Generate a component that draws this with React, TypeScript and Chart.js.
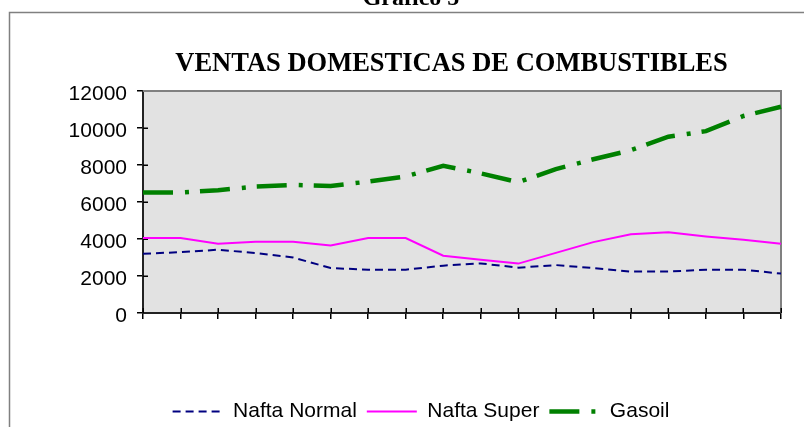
import React, { useEffect, useRef } from 'react';
import { Chart, registerables } from 'chart.js';

Chart.register(...registerables);

// ---- data ----
const periods: string[] = [
  'P1', 'P2', 'P3', 'P4', 'P5', 'P6', 'P7', 'P8', 'P9',
  'P10', 'P11', 'P12', 'P13', 'P14', 'P15', 'P16', 'P17', 'P18',
];
const naftaNormal: number[] = [
  3200, 3290, 3420, 3240, 3000, 2430, 2340, 2340, 2560,
  2680, 2450, 2590, 2430, 2240, 2240, 2340, 2340, 2130,
];
const naftaSuper: number[] = [
  4050, 4050, 3750, 3850, 3850, 3650, 4050, 4050, 3100,
  2880, 2670, 3250, 3830, 4260, 4360, 4140, 3960, 3740,
];
const gasoil: number[] = [
  6510, 6510, 6640, 6830, 6920, 6870, 7100, 7380, 7960,
  7550, 7070, 7780, 8310, 8800, 9530, 9830, 10650, 11150,
];
const yTicks: number[] = [0, 2000, 4000, 6000, 8000, 10000, 12000];
const seriesNames: string[] = ['Nafta Normal', 'Nafta Super', 'Gasoil'];
const pageTitle = 'Gráfico 5';
const chartTitle = 'VENTAS DOMESTICAS DE COMBUSTIBLES';

const SANS = "'Liberation Sans', Arial, sans-serif";
const SERIF = "'Liberation Serif', 'Times New Roman', serif";

const decorPlugin = {
  id: 'decor',
  beforeDraw(chart: any) {
    const { ctx, chartArea } = chart;
    ctx.save();
    // outer frame (left + top)
    ctx.strokeStyle = '#808080';
    ctx.lineWidth = 1.5;
    ctx.beginPath();
    ctx.moveTo(9.5, 440);
    ctx.lineTo(9.5, 12.5);
    ctx.lineTo(810, 12.5);
    ctx.stroke();
    // plot background
    ctx.fillStyle = '#E2E2E2';
    ctx.fillRect(chartArea.left, chartArea.top, chartArea.right - chartArea.left, chartArea.bottom - chartArea.top);
    ctx.restore();
  },
  beforeDatasetsDraw(chart: any) {
    const { ctx, chartArea, scales } = chart;
    ctx.save();
    // plot border top and right
    ctx.strokeStyle = '#808080';
    ctx.lineWidth = 2;
    ctx.beginPath();
    ctx.moveTo(chartArea.left, chartArea.top);
    ctx.lineTo(chartArea.right, chartArea.top);
    ctx.lineTo(chartArea.right, chartArea.bottom);
    ctx.stroke();
    // inner tick marks
    ctx.strokeStyle = '#000';
    ctx.lineWidth = 1.5;
    ctx.beginPath();
    const xs = scales.x;
    for (let i = 0; i < xs.ticks.length; i++) {
      const px = Math.round(xs.getPixelForTick(i)) + 0.25;
      ctx.moveTo(px, chartArea.bottom - 5);
      ctx.lineTo(px, chartArea.bottom);
    }
    const ys = scales.y;
    for (let i = 1; i < ys.ticks.length - 1; i++) {
      const py = Math.round(ys.getPixelForTick(i)) + 0.25;
      ctx.moveTo(chartArea.left, py);
      ctx.lineTo(chartArea.left + 5, py);
    }
    ctx.stroke();
    ctx.restore();
  },
  afterDraw(chart: any) {
    const { ctx } = chart;
    ctx.save();
    ctx.fillStyle = '#000';
    ctx.textAlign = 'center';
    ctx.textBaseline = 'alphabetic';
    ctx.font = `bold 24px ${SERIF}`;
    ctx.fillText(pageTitle, 411, 5);
    ctx.font = `bold 26.5px ${SERIF}`;
    ctx.fillText(chartTitle, 451.5, 70.5);
    ctx.restore();
  },
};

export default function App() {
  const canvasRef = useRef<HTMLCanvasElement | null>(null);

  useEffect(() => {
    if (!canvasRef.current) return;
    const chart = new Chart(canvasRef.current, {
      type: 'line',
      data: {
        labels: periods,
        datasets: [
          {
            label: seriesNames[0],
            data: naftaNormal,
            borderColor: '#000080',
            backgroundColor: '#000080',
            borderWidth: 2,
            borderDash: [8, 5],
          },
          {
            label: seriesNames[1],
            data: naftaSuper,
            borderColor: '#FF00FF',
            backgroundColor: '#FF00FF',
            borderWidth: 2,
          },
          {
            label: seriesNames[2],
            data: gasoil,
            borderColor: '#008000',
            backgroundColor: '#008000',
            borderWidth: 4.5,
            borderDash: [30, 12, 4, 11],
          },
        ],
      },
      options: {
        responsive: false,
        animation: false,
        devicePixelRatio: 1,
        layout: { padding: { left: 61, right: 23, top: 91, bottom: 0 } },
        elements: {
          point: { radius: 0, hoverRadius: 0 },
          line: { tension: 0, borderCapStyle: 'butt', borderJoinStyle: 'miter', fill: false },
        },
        plugins: {
          title: { display: false },
          tooltip: { enabled: false },
          legend: {
            display: true,
            position: 'bottom',
            align: 'center',
            labels: {
              usePointStyle: true,
              pointStyle: 'line',
              pointStyleWidth: 50,
              padding: 10,
              color: '#000',
              font: { family: SANS, size: 21 },
              generateLabels: (c: any) =>
                c.data.datasets.map((ds: any, i: number) => ({
                  text: ds.label,
                  fillStyle: ds.borderColor,
                  strokeStyle: ds.borderColor,
                  lineWidth: ds.borderWidth,
                  lineDash: ds.borderDash || [],
                  lineCap: 'butt',
                  pointStyle: 'line',
                  rotation: 180,
                  hidden: false,
                  fontColor: '#000',
                  datasetIndex: i,
                })),
            },
          },
        },
        scales: {
          x: {
            type: 'category',
            offset: false,
            grid: {
              display: true,
              drawOnChartArea: false,
              drawTicks: true,
              tickLength: 6,
              color: '#000',
              lineWidth: 1.5,
            },
            border: { display: true, color: '#222', width: 2 },
            ticks: { display: false },
            afterFit: (s: any) => { s.height = 78; },
          },
          y: {
            min: yTicks[0],
            max: yTicks[yTicks.length - 1],
            afterBuildTicks: (s: any) => { s.ticks = yTicks.map((v) => ({ value: v })); },
            ticks: {
              color: '#000',
              padding: 10,
              labelOffset: 3.5,
              font: { family: SANS, size: 21 },
              callback: (v: any) => String(v),
            },
            grid: {
              display: true,
              drawOnChartArea: false,
              drawTicks: true,
              tickLength: 6,
              color: '#000',
              lineWidth: 1.5,
            },
            border: { display: true, color: '#222', width: 2 },
            afterFit: (s: any) => { s.width = 82; },
          },
        },
      },
      plugins: [decorPlugin],
    } as any);
    return () => chart.destroy();
  }, []);

  return (
    <div style={{ position: 'absolute', left: 0, top: 0, width: 804, height: 427, overflow: 'hidden', background: '#fff' }}>
      <canvas ref={canvasRef} width={804} height={432} style={{ display: 'block', width: 804, height: 432 }} />
    </div>
  );
}
